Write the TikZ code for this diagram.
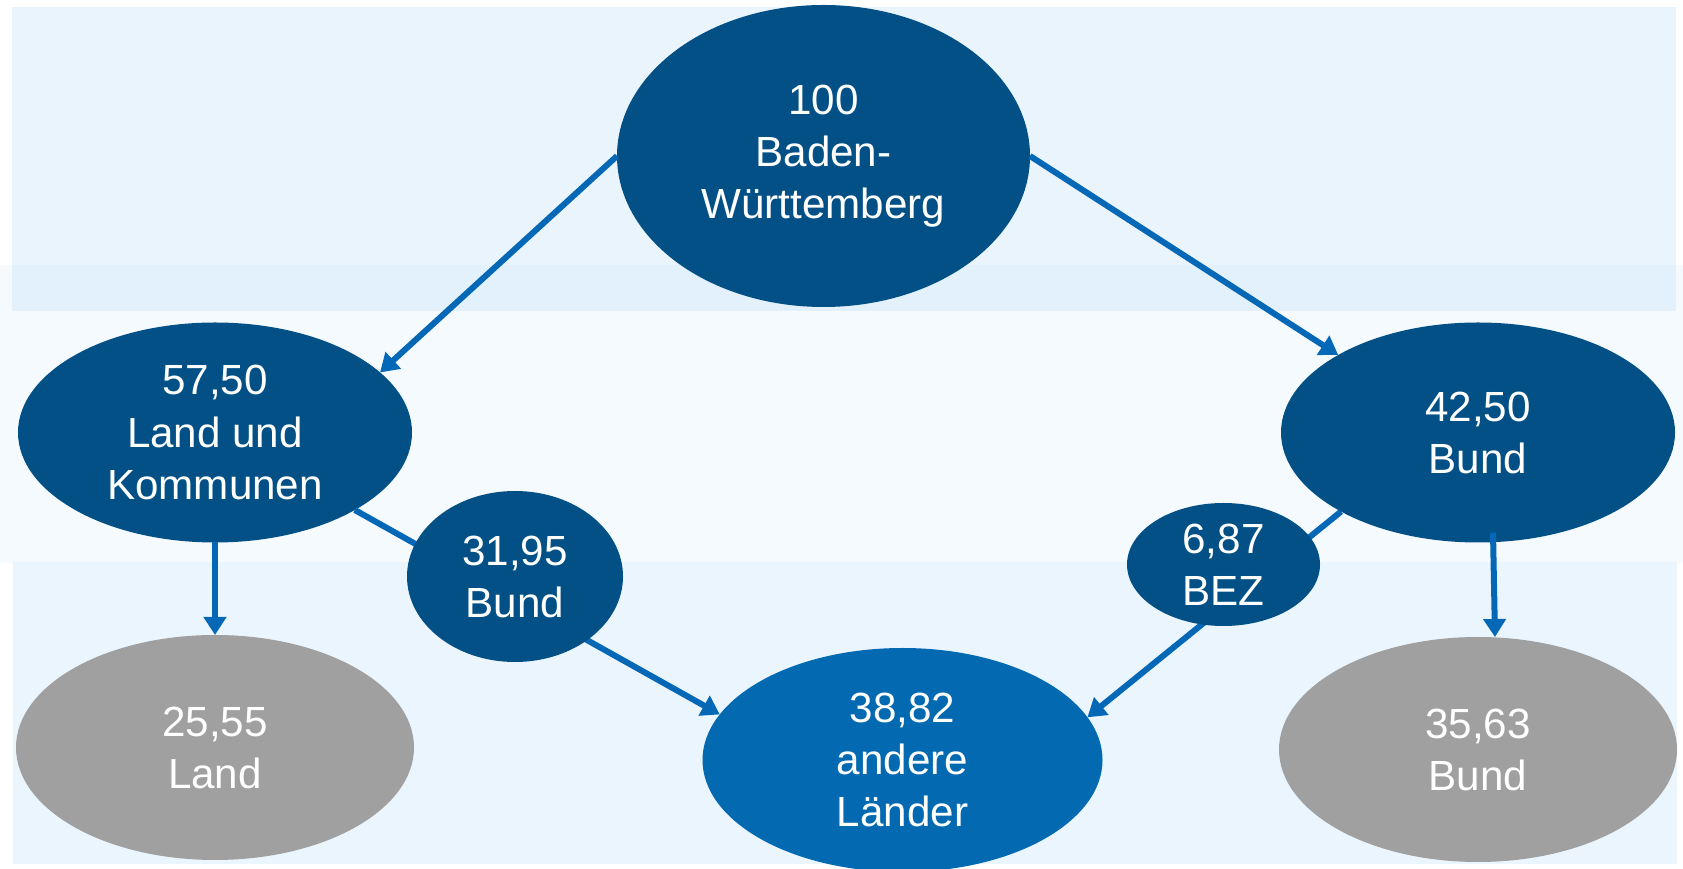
\documentclass[tikz,border=0pt]{standalone}
\usepackage{fontspec}
\setmainfont{Liberation Sans}
\usepackage{tikz}
\usetikzlibrary{shapes.geometric, arrows.meta, positioning}

\definecolor{bwdark}{RGB}{2,80,133}
\definecolor{bwmid}{RGB}{3,106,178}
\definecolor{bwarrow}{RGB}{4,104,183}
\definecolor{bwgray}{RGB}{160,160,160}
\definecolor{bandtop}{RGB}{234,244,253}
\definecolor{bandmid}{RGB}{245,250,254}
\definecolor{bandlap}{RGB}{227,241,253}
\definecolor{bandlow}{RGB}{235,245,254}

\begin{document}
\begin{tikzpicture}[auto,node distance=2cm,
                    >={Triangle[width=0.22cm,length=0.18cm]},
                    main node/.style={ellipse,fill=bwdark,text=white,align=center,inner sep=0pt,outer sep=0pt,
                                      font=\fontsize{12pt}{14.8pt}\selectfont},
                    big node/.style={main node,minimum width=3.94cm,minimum height=2.2cm},
                    grey node/.style={big node,fill=bwgray,minimum width=3.98cm,minimum height=2.25cm},
                    every edge/.style={draw=bwarrow,line width=0.06cm,->}]

 \useasboundingbox (0,0) rectangle (16.83,8.69);
 \clip (0,0) rectangle (16.83,8.69);
 \fill[bandtop] (0.12,5.58) rectangle (16.76,8.62);
 \fill[bandmid] (0,3.06) rectangle (16.83,6.04);
 \fill[bandlap] (0.12,5.58) rectangle (16.76,6.04);
 \fill[bandlow] (0.13,0.05) rectangle (16.77,3.07);

 \node[main node,minimum width=4.13cm,minimum height=3.02cm] (bw) at (8.235,7.13) {100\\Baden-\\Württemberg};
 \node[big node] (landk) [node distance=2.765cm,below of=bw,xshift=-6.085cm] {57,50\\Land und\\Kommunen};
 \node[big node] (bund) [node distance=12.63cm,right of=landk] {42,50\\Bund};
 \node[grey node] (land) [node distance=3.15cm,below of=landk] {25,55\\Land};
 \node[grey node] (bundg) [node distance=3.17cm,below of=bund] {35,63\\Bund};
 \node[big node,fill=bwmid,minimum width=4cm,minimum height=2.24cm] (andere) [node distance=6.875cm,right of=land,yshift=-0.125cm] {38,82\\andere\\Länder};

 \path
 (bw.west) edge (landk.20)
 (bw.east) edge (bund.151)
 (landk.south) edge (land.north)
 ([xshift=0.15cm,yshift=0.1cm]bund.south) edge ([xshift=0.17cm]bundg.north)
 (landk.-29.3) edge (andere.166.9)
 (bund.-150.7) edge (andere.13.2);

 \node[main node,minimum width=2.16cm,minimum height=1.71cm] (bund1) at (5.15,2.925) {31,95\\Bund};
 \node[main node,minimum width=1.93cm,minimum height=1.23cm] (bez) at (12.235,3.045) {6,87\\BEZ};

\end{tikzpicture}
\end{document}
